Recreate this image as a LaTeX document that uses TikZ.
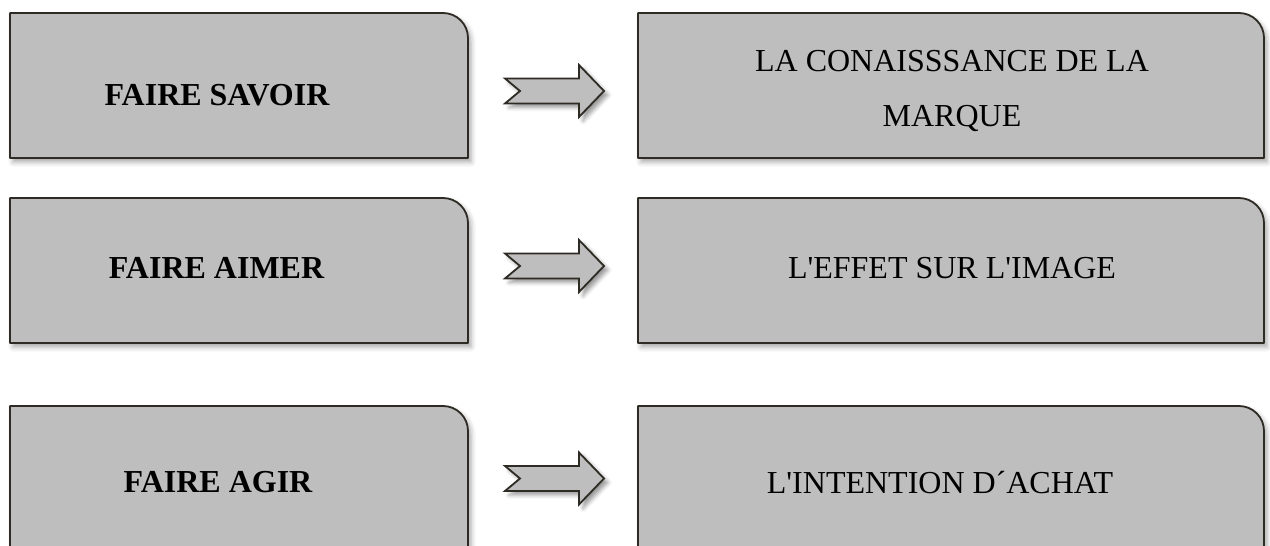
\documentclass[tikz,border=0pt]{standalone}
\usepackage{fontspec}
\setmainfont{Liberation Serif}
\usetikzlibrary{positioning,calc,shadows.blur}
\definecolor{BoxGray}{HTML}{BEBEBE}
\definecolor{BoxLine}{HTML}{2E2B24}
\tikzset{
  notcharrow/.pic={
    \filldraw[arrowline] (-49.5,12.5) -- (24.5,12.5) -- (24.5,26) -- (49.5,0) -- (24.5,-26) -- (24.5,-12.5) -- (-49.5,-12.5) -- (-34.5,0) -- cycle;
  }
}
\begin{document}
\begin{tikzpicture}[x=1pt, y=1pt,
    box/.style={minimum height=145pt, inner sep=0pt, outer sep=0pt},
    leftbox/.style={box, minimum width=458pt},
    rightbox/.style={box, minimum width=626pt},
    boxline/.style={draw=BoxLine, line width=1.8pt, fill=BoxGray, line join=round,
      blur shadow={shadow xshift=3pt, shadow yshift=-4pt, shadow blur radius=5pt, shadow opacity=35}},
    arrowline/.style={draw=BoxLine, line width=1.8pt, fill=BoxGray, line join=miter,
      blur shadow={shadow xshift=4pt, shadow yshift=-4pt, shadow blur radius=4pt, shadow opacity=40}},
    lefttext/.style={font=\fontsize{32}{38}\selectfont\bfseries, anchor=base, inner sep=0pt},
    righttext/.style={font=\fontsize{32}{55}\selectfont, align=center, inner sep=0pt}]
    \useasboundingbox (0,0) rectangle (1270,546);
    \node (savoir) [leftbox] at (239,460.5) {};
    \node (marque) [rightbox, right=170pt of savoir] {};
    \node (aimer) [leftbox, below=40pt of savoir] {};
    \node (image) [rightbox, right=170pt of aimer] {};
    \node (agir) [leftbox, below=63pt of aimer] {};
    \node (achat) [rightbox, right=170pt of agir] {};
    \foreach \b in {savoir,aimer,agir,marque,image,achat}
      \filldraw[boxline] (\b.south west) -- (\b.north west) -- ([xshift=-25pt]\b.north east)
        arc[start angle=90, end angle=0, radius=25pt] -- (\b.south east) -- cycle;
    \pic at ($(savoir.east)!.5!(marque.west)+(1.5,-5.5)$) {notcharrow};
    \pic at ($(aimer.east)!.5!(image.west)+(1.5,4.5)$) {notcharrow};
    \pic at ($(agir.east)!.5!(achat.west)+(1.5,0)$) {notcharrow};
    \node (tsavoir) [lefttext] at ($(savoir.center)+(-22,-20.5)$) {FAIRE SAVOIR};
    \node (taimer) [lefttext] at ($(aimer.center)+(-22.5,-8.5)$) {FAIRE AIMER};
    \node (tagir) [lefttext] at ($(agir.center)+(-21,-14.5)$) {FAIRE AGIR};
    \node (tmarque) [righttext] at ($(marque.center)+(1,-6)$) {LA CONAISSSANCE DE LA\\MARQUE};
    \node (timage) [righttext, anchor=base] at ($(image.center)+(1,-8.5)$) {L\textquotesingle EFFET SUR L\textquotesingle IMAGE};
    \node (tachat) [righttext, anchor=base] at ($(achat.center)+(-11,-15.5)$) {L\textquotesingle INTENTION D´ACHAT};
\end{tikzpicture}
\end{document}
